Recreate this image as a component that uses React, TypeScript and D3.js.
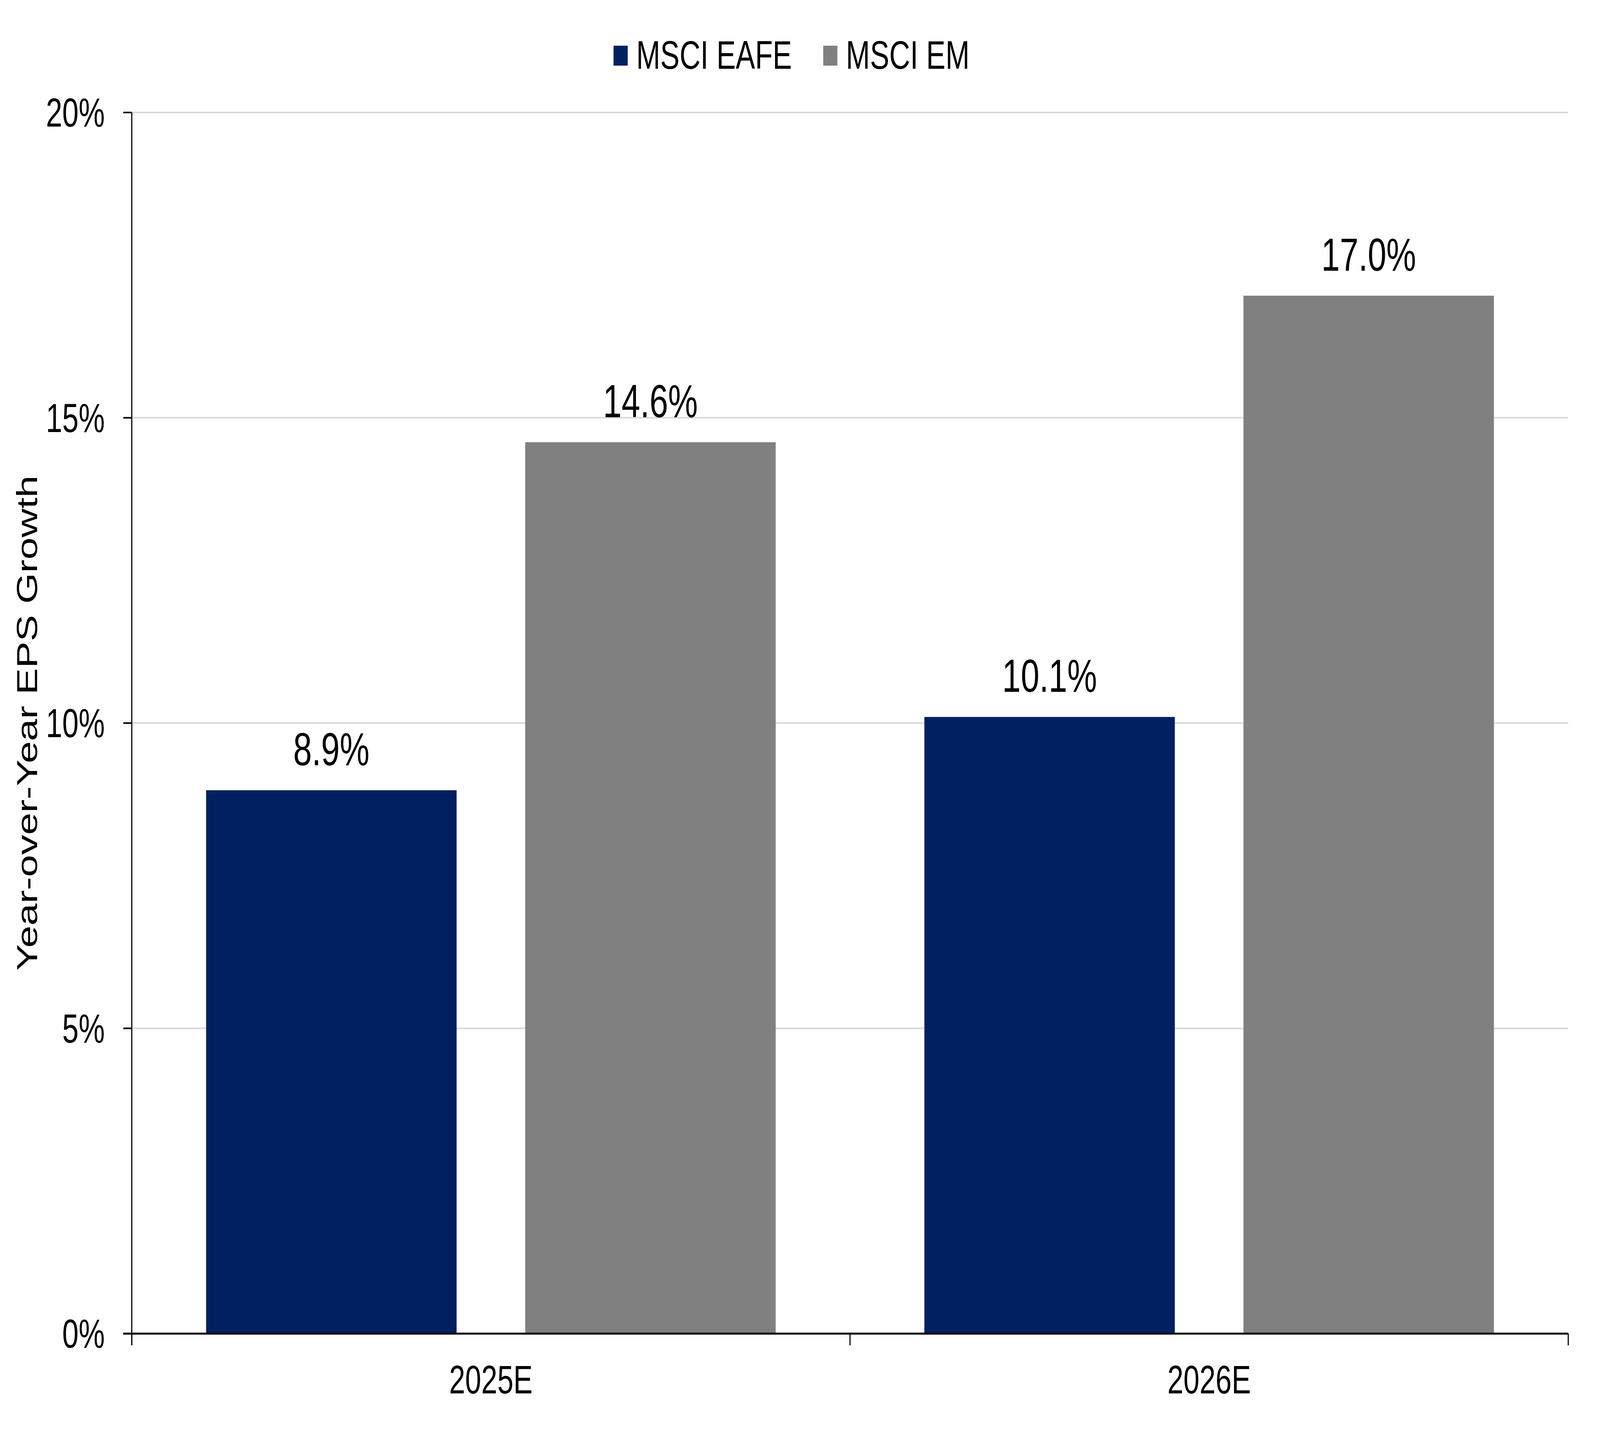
import { useRef, useEffect } from 'react'
import * as d3 from 'd3'

const categories: string[] = ['2025E', '2026E']
const seriesNames: string[] = ['MSCI EAFE', 'MSCI EM']
const eafeValues: number[] = [8.9, 10.1]
const emValues: number[] = [14.6, 17.0]
const yTicks: number[] = [0, 5, 10, 15, 20]
const colors: string[] = ['#002060', '#808080']

export default function App() {
  const svgRef = useRef(null)

  const width: number = 5646
  const height: number = 3694
  const margin = { top: 288, right: 112, bottom: 280, left: 465 }
  const font = '"Liberation Sans", Arial, sans-serif'

  useEffect(() => {
    document.body.style.margin = '0'
    document.documentElement.style.overflow = 'hidden'
    // the window may be narrower than the chart, so stretch the drawing to fill it
    const svg = d3.select(svgRef.current)
      .attr('viewBox', '0 0 ' + width + ' ' + height)
      .attr('preserveAspectRatio', 'none')
    svg.selectAll('*').remove()

    const series = [eafeValues, emValues]

    const x0 = d3.scaleBand()
      .domain(categories)
      .range([margin.left, width - margin.right])
      .padding(0)
    const x1 = d3.scaleBand()
      .domain(seriesNames)
      .range([0, x0.bandwidth()])
      .paddingInner(0.215)
      .paddingOuter(0.233)
    const y = d3.scaleLinear()
      .domain([0, 20])
      .range([height - margin.bottom, margin.top])

    // white background
    svg.append('rect')
      .attr('width', width).attr('height', height)
      .attr('fill', '#fff')

    // gridlines
    svg.append('g')
      .selectAll('line')
      .data(yTicks.filter(t => t > 0))
      .enter()
      .append('line')
      .attr('x1', margin.left)
      .attr('x2', width - margin.right)
      .attr('y1', d => y(d))
      .attr('y2', d => y(d))
      .attr('stroke', '#d9d9d9')
      .attr('stroke-width', 4)

    // bars
    const groups = svg.append('g')
      .selectAll('g')
      .data(categories)
      .enter()
      .append('g')
      .attr('transform', d => 'translate(' + x0(d) + ',0)')

    groups.selectAll('rect')
      .data((d, i) => seriesNames.map((s, j) => ({ s, j, v: series[j][i] })))
      .enter()
      .append('rect')
      .attr('x', d => x1(d.s) as number)
      .attr('width', x1.bandwidth())
      .attr('y', d => y(d.v))
      .attr('height', d => y(0) - y(d.v))
      .attr('fill', d => colors[d.j])

    // data labels
    groups.selectAll('text')
      .data((d, i) => seriesNames.map((s, j) => ({ s, j, v: series[j][i] })))
      .enter()
      .append('text')
      .attr('x', d => (x1(d.s) as number) + x1.bandwidth() / 2)
      .attr('y', d => y(d.v) - 64)
      .attr('text-anchor', 'middle')
      .attr('font-family', font)
      .attr('font-size', 118)
      .attr('fill', '#000')
      .text(d => d.v.toFixed(1) + '%')

    // y axis
    const yAxis = svg.append('g')
    yAxis.append('line')
      .attr('x1', margin.left).attr('x2', margin.left)
      .attr('y1', margin.top).attr('y2', y(0) + 30)
      .attr('stroke', '#000').attr('stroke-width', 4)
    yAxis.selectAll('line.tick')
      .data(yTicks)
      .enter()
      .append('line')
      .attr('class', 'tick')
      .attr('x1', margin.left - 30).attr('x2', margin.left)
      .attr('y1', d => y(d)).attr('y2', d => y(d))
      .attr('stroke', '#000').attr('stroke-width', 4)
    yAxis.selectAll('text')
      .data(yTicks)
      .enter()
      .append('text')
      .attr('x', 370)
      .attr('y', d => y(d))
      .attr('dy', '0.35em')
      .attr('text-anchor', 'end')
      .attr('font-family', font)
      .attr('font-size', 104)
      .text(d => d + '%')

    // x axis
    const xAxis = svg.append('g')
    xAxis.append('line')
      .attr('x1', margin.left - 30).attr('x2', width - margin.right)
      .attr('y1', y(0)).attr('y2', y(0))
      .attr('stroke', '#000').attr('stroke-width', 5)
    const edges = categories.map(c => x0(c) as number).concat([width - margin.right])
    xAxis.selectAll('line.tick')
      .data(edges)
      .enter()
      .append('line')
      .attr('class', 'tick')
      .attr('x1', d => d).attr('x2', d => d)
      .attr('y1', y(0)).attr('y2', y(0) + 30)
      .attr('stroke', '#000').attr('stroke-width', 4)
    xAxis.selectAll('text')
      .data(categories)
      .enter()
      .append('text')
      .attr('x', d => (x0(d) as number) + x0.bandwidth() / 2)
      .attr('y', 3567)
      .attr('text-anchor', 'middle')
      .attr('font-family', font)
      .attr('font-size', 102)
      .text(d => d)

    // y axis title
    svg.append('text')
      .attr('transform', 'translate(131,' + (margin.top + y(0)) / 2 + ') rotate(-90)')
      .attr('text-anchor', 'middle')
      .attr('font-family', font)
      .attr('font-size', 102)
      .text('Year-over-Year EPS Growth')

    // legend
    const legendX = [2165, 2905]
    const legend = svg.append('g')
      .selectAll('g')
      .data(seriesNames)
      .enter()
      .append('g')
      .attr('transform', (d, i) => 'translate(' + legendX[i] + ',0)')
    legend.append('rect')
      .attr('x', 0).attr('y', 117)
      .attr('width', 50).attr('height', 51)
      .attr('fill', (d, i) => colors[i])
    legend.append('text')
      .attr('x', 80)
      .attr('y', 176)
      .attr('font-family', font)
      .attr('font-size', 102)
      .text(d => d)
  }, [])

  return (
    <svg ref={svgRef} style={{ display: 'block', width: '100vw', height: '100vh' }} />
  )
}
